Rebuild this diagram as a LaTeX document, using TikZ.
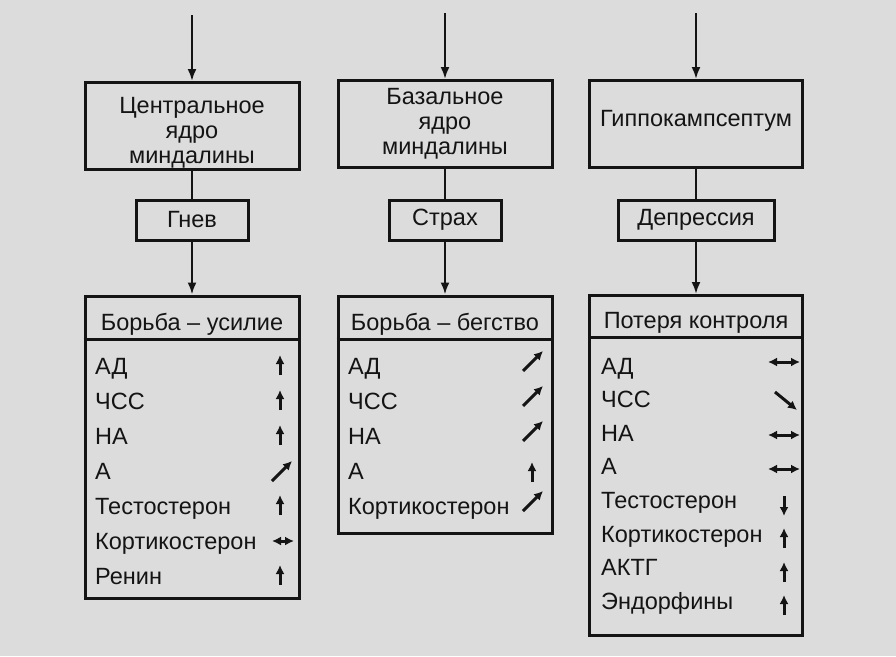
\documentclass[tikz,border=0pt]{standalone}
\usepackage{fontspec}
\setmainfont{Liberation Sans}
\usetikzlibrary{positioning,arrows.meta}
\definecolor{pagegray}{RGB}{220,220,220}
\definecolor{inkgray}{RGB}{20,20,20}
\tikzset{
    box/.style={draw=inkgray, line width=3pt, fill=pagegray, text=inkgray,
        font=\fontsize{23.5}{25}\selectfont, align=center, inner sep=0pt},
    flow/.style={draw=inkgray, line width=2.2pt, -{Latex[length=12pt,width=9pt]}},
    link/.style={draw=inkgray, line width=2.2pt},
    rule/.style={draw=inkgray, line width=3pt},
    item/.style={anchor=base west, inner sep=0pt, text=inkgray, font=\fontsize{23.5}{26}\selectfont},
    head/.style={anchor=base, inner sep=0pt, text=inkgray, font=\fontsize{23.5}{26}\selectfont},
    trend/.style={draw=inkgray, line width=3pt, -{Latex[length=9pt,width=9pt]}}
}
% small trend signs: x, y of the sign centre
\newcommand{\trendup}[2]{\draw[trend] (#1,#2+10) -- (#1,#2-10);}
\newcommand{\trenddown}[2]{\draw[trend] (#1,#2-10) -- (#1,#2+10);}
\newcommand{\trendrise}[2]{\draw[trend] (#1-10,#2+10) -- (#1+10,#2-10);}
\newcommand{\trendfall}[2]{\draw[trend] (#1-11,#2-9) -- (#1+11,#2+9);}
\newcommand{\trendsame}[3]{\draw[trend,{Latex[length=9pt,width=9pt]}-{Latex[length=9pt,width=9pt]}] (#1-#3,#2) -- (#1+#3,#2);}

\begin{document}
\begin{tikzpicture}[x=1pt,y=-1pt]
    \fill[pagegray] (0,0) rectangle (896,656);
    \useasboundingbox (0,0) rectangle (896,656);

    % Anger column
    \node[box, minimum width=214, minimum height=87] (centr) at (192,126) {\rule{0pt}{29pt}Центральное\\ядро\\миндалины};
    \node[box, minimum width=112, minimum height=40] (anger) at (192,220) {Гнев};
    \node[box, minimum width=214, minimum height=302] (fight) at (192,447) {};
    \coordinate (inA) at ([yshift=66pt]centr.north);
    \draw[flow] (inA) -- (centr);
    \draw[link] (centr) -- (anger);
    \draw[flow] (anger) -- (fight);
    \node[head] (fighthead) at (192,330) {Борьба – усилие};
    \draw[rule] ([yshift=-45pt]fight.north west) -- ([yshift=-45pt]fight.north east);
    \foreach \txt [count=\i from 0] in {АД,ЧСС,НА,А,Тестостерон,Кортикостерон,Ренин}
        \node[item] (fight\i) at (95,374+35*\i) {\txt};
    \trendup{280}{365}
    \trendup{280}{400}
    \trendup{280}{435}
    \trendrise{282}{471}
    \trendup{280}{505}
    \trendsame{283}{541}{11}
    \trendup{280}{575}

    % Fear column
    \node[box, minimum width=214, minimum height=87] (basal) at (445,124) {Базальное\\ядро\\миндалины};
    \node[box, minimum width=112, minimum height=40] (fear) at (445,220) {Страх};
    \node[box, minimum width=214, minimum height=237] (flight) at (445,414.5) {};
    \coordinate (inB) at ([yshift=66pt]basal.north);
    \draw[flow] (inB) -- (basal);
    \draw[link] (basal) -- (fear);
    \draw[flow] (fear) -- (flight);
    \node[head] (flighthead) at (445,330) {Борьба – бегство};
    \draw[rule] ([yshift=-45pt]flight.north west) -- ([yshift=-45pt]flight.north east);
    \foreach \txt [count=\i from 0] in {АД,ЧСС,НА,А,Кортикостерон}
        \node[item] (flight\i) at (348,374+35*\i) {\txt};
    \trendrise{533}{361}
    \trendrise{533}{396}
    \trendrise{533}{431}
    \trendup{532}{472}
    \trendrise{533}{501}

    % Depression column
    \node[box, minimum width=213, minimum height=87] (hippo) at (696,124) {Гиппокампсептум\rule[-11pt]{0pt}{0pt}};
    \node[box, minimum width=156, minimum height=40] (depr) at (696,220) {Депрессия};
    \node[box, minimum width=213, minimum height=340] (loss) at (696,465.5) {};
    \coordinate (inC) at ([yshift=66pt]hippo.north);
    \draw[flow] (inC) -- (hippo);
    \draw[link] (hippo) -- (depr);
    \draw[flow] (depr) -- (loss);
    \node[head] (losshead) at (696,328) {Потеря контроля};
    \draw[rule] ([yshift=-43pt]loss.north west) -- ([yshift=-43pt]loss.north east);
    \foreach \txt [count=\i from 0] in {АД,ЧСС,НА,А,Тестостерон,Кортикостерон,АКТГ,Эндорфины}
        \node[item] (loss\i) at (601,374+33.6*\i) {\txt};
    \trendsame{784}{362}{16}
    \trendfall{786}{401}
    \trendsame{784}{435}{16}
    \trendsame{784}{469}{16}
    \trenddown{784}{506}
    \trendup{784}{538}
    \trendup{784}{572}
    \trendup{784}{605}
\end{tikzpicture}
\end{document}
